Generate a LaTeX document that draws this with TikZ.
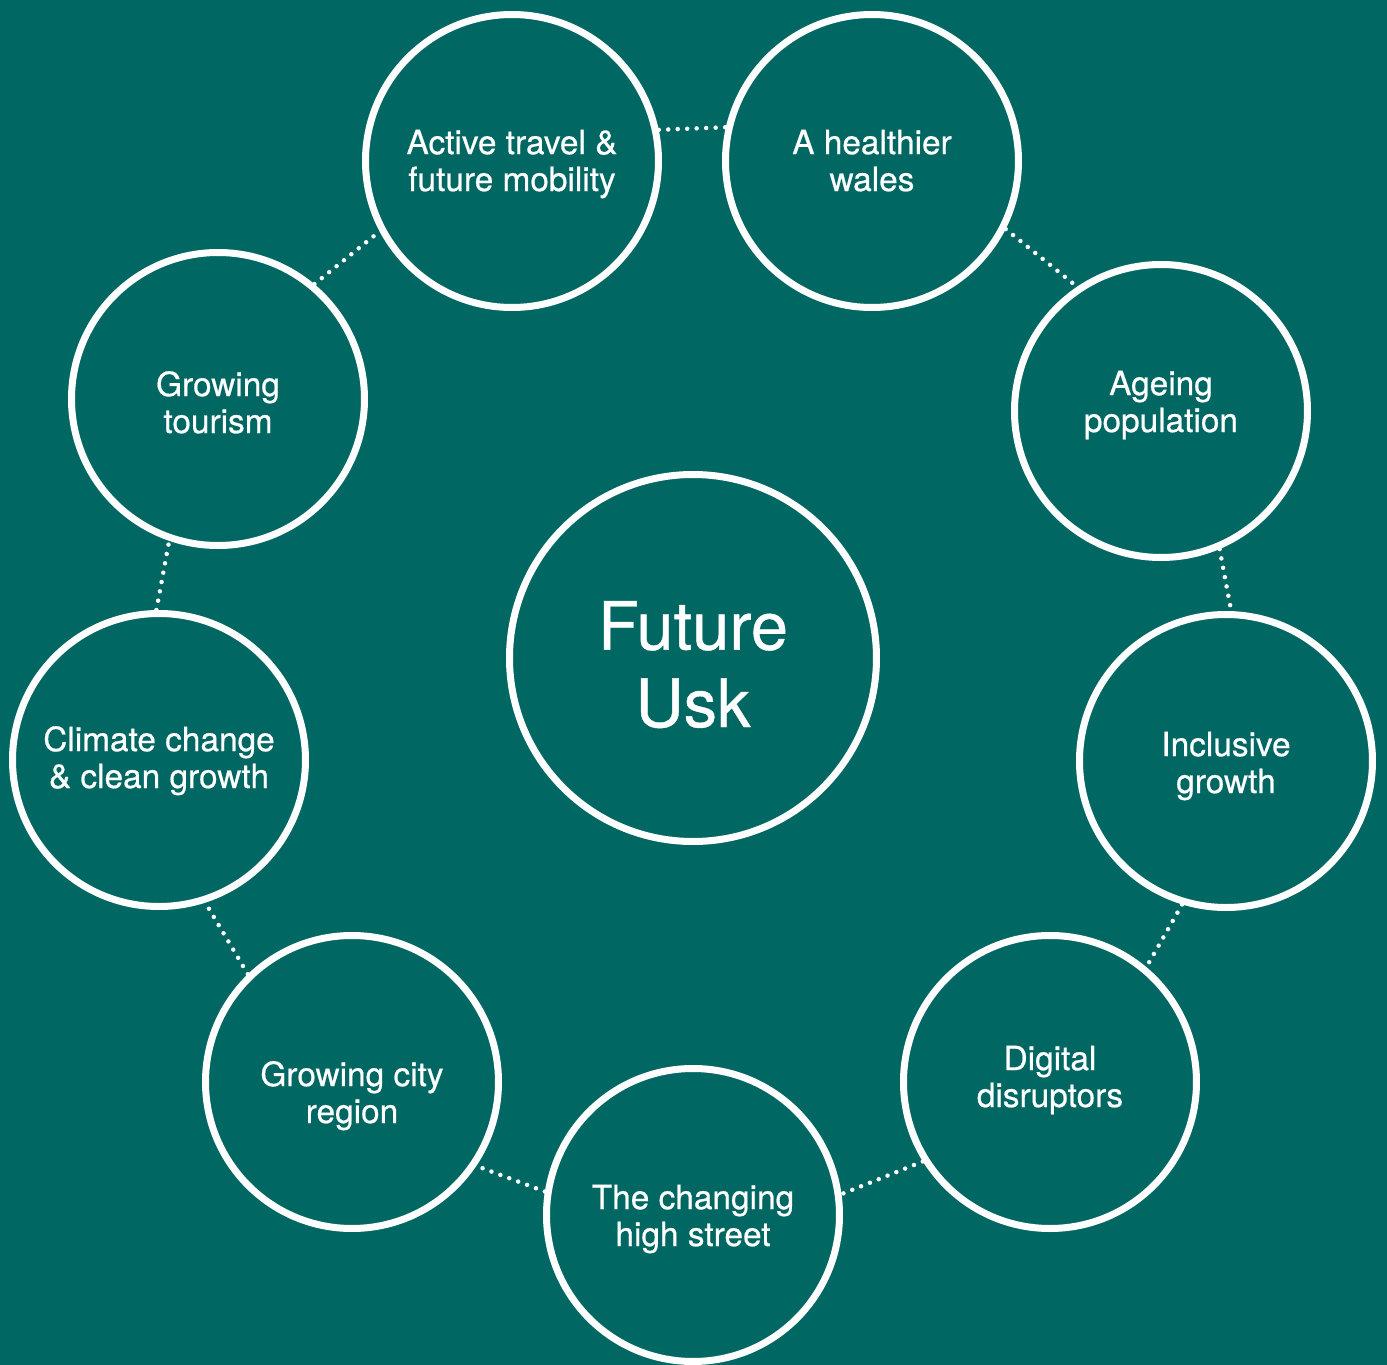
\documentclass[tikz,border=0pt]{standalone}
\usepackage{fontspec}
\setmainfont{TeX Gyre Heros}[FakeBold=0.6]
\usetikzlibrary{positioning}
\definecolor{uskgreen}{RGB}{1,103,99}

\begin{document}
\begin{tikzpicture}[
    topic/.style={circle,draw=white,line width=0.07cm,minimum size=2.93cm,
        text=white,align=center,font=\fontsize{9.5}{10.5}\selectfont},
    hub/.style={topic,minimum size=3.67cm,font=\fontsize{19}{22}\selectfont},
    drop/.style={text height=#1,text depth=0pt},
    link/.style={white,line width=0.045cm,line cap=round,
        dash pattern=on 0pt off 0.095cm}]
    \useasboundingbox (0,0) rectangle (13.87,-13.65);
    \fill[uskgreen] (0,0) rectangle (13.87,-13.65);
    \node[hub,drop=1.38cm] (usk) at (6.93,-6.58) {Future\\Usk};
    \node[topic,drop=0.60cm] (active) at (5.12,-1.61)
        {Active travel \&\\future mobility};
    \node[topic,drop=0.60cm] (healthier) at (8.72,-1.61) {A healthier\\wales};
    \node[topic,drop=0.42cm] (ageing) at (11.61,-4.11) {Ageing\\population};
    \node[topic,drop=0.64cm] (inclusive) at (12.26,-7.61) {Inclusive\\growth};
    \node[topic,drop=0.50cm] (digital) at (10.50,-10.82) {Digital\\disruptors};
    \node[topic,drop=0.62cm] (highstreet) at (6.93,-12.15)
        {The changing\\high street};
    \node[topic,drop=0.82cm] (cityregion) at (3.52,-10.82)
        {Growing city\\region};
    \node[topic,drop=0.56cm] (climate) at (1.59,-7.60)
        {Climate change\\\& clean growth};
    \node[topic,drop=0.68cm] (tourism) at (2.18,-3.99) {Growing\\tourism};
    \draw[link] (active.12) -- (healthier.167);
    \draw[link] (healthier.-27) -- (ageing.124.5);
    \draw[link] (ageing.-67) -- (inclusive.88);
    \draw[link] (inclusive.-107.5) -- (digital.50);
    \draw[link] (digital.-148.4) -- (highstreet.8.7);
    \draw[link] (highstreet.171) -- (cityregion.-34.2);
    \draw[link] (cityregion.134.7) -- (climate.-72);
    \draw[link] (climate.91) -- (tourism.-109.4);
    \draw[link] (tourism.50) -- (active.-152.3);
\end{tikzpicture}
\end{document}
